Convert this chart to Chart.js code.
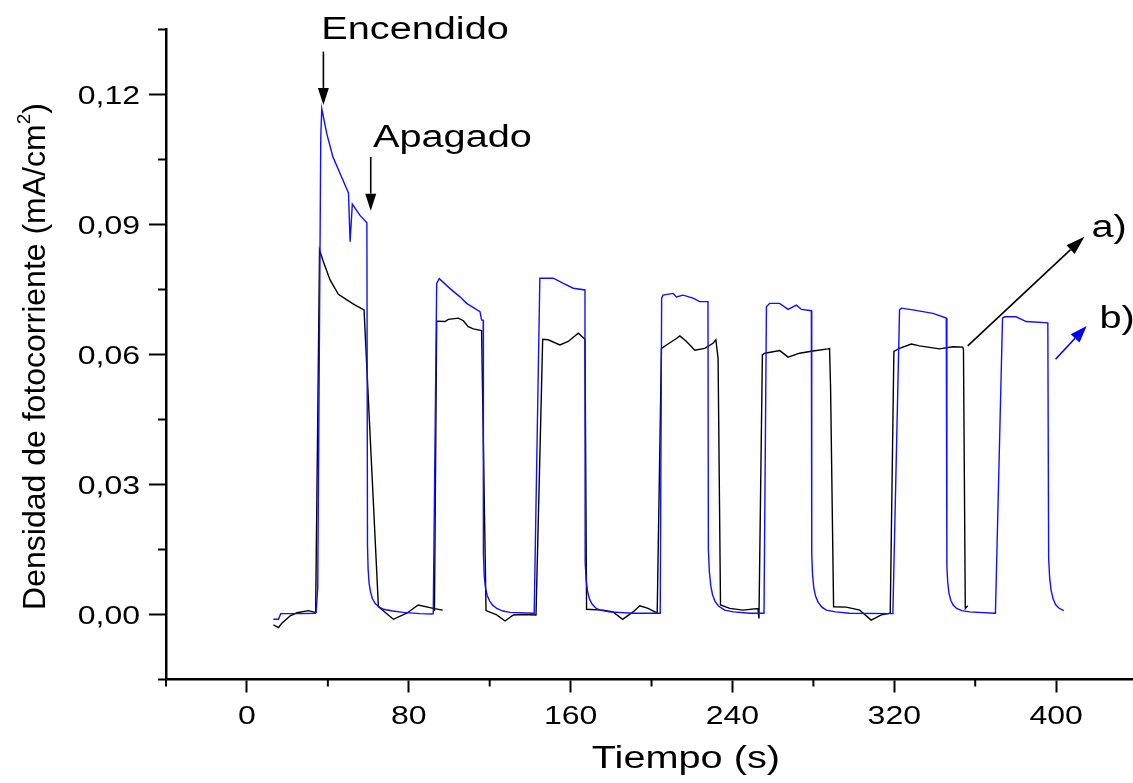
<!DOCTYPE html>
<html>
<head>
<meta charset="utf-8">
<script src="https://cdn.jsdelivr.net/npm/chart.js@4.4.1/dist/chart.umd.min.js"></script>
<style>
  html, body { margin: 0; padding: 0; background: #fff; }
  #wrap { width: 1133px; height: 783px; }
</style>
</head>
<body>
<div id="wrap"><canvas id="photoChart" width="1133" height="783"></canvas></div>
<script>
// ---- datos ----
// curva a) (negra): tiempo (s) y densidad (mA/cm2); null = corte de la línea
const blackTime = [
  13.1, 15.6, 17.3, 21.4, 24.7, 30.4, 33.7, 34.0, 35.9, 37.8, 41.1, 45.2, 49.4, 53.5, 57.9,
  65.0, 72.4, 79.0, 84.7, 92.1, 96.8,
  95.0,
  92.7, 93.8, 97.9, 99.6, 104.5, 107.0, 109.4, 111.9, 116.0,
  118.2, 123.5, 127.6, 131.7, 135.8, 142.9,
  146.2, 148.9, 154.7, 158.8, 163.8, 167.1,
  167.9, 176.1, 181.0, 185.7, 190.9, 194.2, 198.3, 202.8,
  204.9, 207.4, 212.3, 214.0, 217.3, 221.4, 226.3, 230.4, 231.8, 232.9,
  234.1, 238.7, 245.2, 252.6, 253.1,
  254.8, 256.0, 263.4, 267.5, 273.2, 279.8, 287.2, 288.0, 288.5,
  290.0, 296.3, 302.9, 308.6, 313.6, 318.0,
  319.8, 322.6, 328.4, 332.5, 342.4, 348.9, 353.9, 354.2,
  355.1, 356.3
];
const blackCurrent = [
  -0.0024, -0.0030, -0.0020, -0.0003, 0.0004, 0.0009, 0.0005, 0.0020, 0.0841, 0.0814, 0.0772, 0.0739, 0.0726, 0.0714, 0.0703,
  0.0018, -0.0011, 0.0003, 0.0022, 0.0014, 0.0010,
  null,
  0.0008, 0.0677, 0.0676, 0.0681, 0.0684, 0.0678, 0.0664, 0.0659, 0.0655,
  0.0009, -0.0001, -0.0015, -0.0001, 0.0000, -0.0001,
  0.0635, 0.0634, 0.0622, 0.0630, 0.0649, 0.0635,
  0.0012, 0.0010, 0.0006, -0.0011, 0.0006, 0.0020, 0.0014, 0.0003,
  0.0614, 0.0622, 0.0637, 0.0643, 0.0630, 0.0610, 0.0614, 0.0626, 0.0634, 0.0591,
  0.0022, 0.0014, 0.0010, 0.0014, -0.0009,
  0.0599, 0.0603, 0.0609, 0.0594, 0.0603, 0.0608, 0.0613, 0.0614, 0.0526,
  0.0018, 0.0017, 0.0010, -0.0013, -0.0001, 0.0003,
  0.0607, 0.0614, 0.0624, 0.0620, 0.0613, 0.0618, 0.0617, 0.0610,
  0.0014, 0.0020
];

// curva b) (azul)
const blueTime = [
  13.1, 15.6, 16.7, 26.3, 33.7, 34.2, 35.0, 36.5, 37.0, 39.5, 42.5, 46.1, 50.2, 51.0, 52.1, 55.9, 59.3,
  59.6, 59.9, 60.4, 61.1, 62.0, 63.4, 65.5, 67.5, 72.0, 77.3, 85.6, 91.4, 92.1,
  93.8, 95.1, 100.4, 105.3, 108.6, 115.2, 116.0, 116.8,
  116.9, 117.3, 117.9, 118.8, 120.0, 121.6, 123.5, 126.5, 130.0, 141.5, 142.0,
  144.8, 151.4, 156.4, 161.3, 167.1,
  167.2, 167.7, 168.4, 169.3, 170.6, 172.4, 174.5, 179.0, 190.9, 202.5, 204.3,
  205.0, 205.7, 210.7, 212.3, 215.6, 220.5, 223.8, 227.9,
  228.1, 228.6, 229.3, 230.2, 231.4, 233.2, 236.2, 240.5, 248.6, 255.6,
  256.8, 258.4, 263.3, 267.5, 271.6, 274.1, 279.0,
  279.2, 279.6, 280.2, 281.1, 282.4, 284.2, 286.4, 291.0, 297.9, 318.5, 319.3,
  322.6, 323.5, 329.2, 339.1, 345.7,
  346.0, 346.4, 347.0, 347.9, 349.1, 350.8, 353.4, 357.2, 369.5, 370.0,
  373.5, 374.5, 380.2, 385.2, 395.9,
  396.3, 396.8, 397.5, 398.5, 399.7, 401.3, 403.8
];
const blueCurrent = [
  -0.0011, -0.0011, 0.0002, 0.0002, 0.0003, 0.0005, 0.0060, 0.1100, 0.1167, 0.1109, 0.1056, 0.1017, 0.0973, 0.0860, 0.0947, 0.0921, 0.0904,
  0.0160, 0.0105, 0.0072, 0.0052, 0.0037, 0.0025, 0.0017, 0.0012, 0.0008, 0.0005, 0.0002, 0.0001, 0.0002,
  0.0764, 0.0775, 0.0752, 0.0733, 0.0718, 0.0699, 0.0680, 0.0679,
  0.0140, 0.0090, 0.0062, 0.0044, 0.0031, 0.0021, 0.0014, 0.0008, 0.0005, 0.0003, 0.0003,
  0.0776, 0.0776, 0.0764, 0.0753, 0.0749,
  0.0120, 0.0078, 0.0053, 0.0036, 0.0024, 0.0015, 0.0010, 0.0006, 0.0003, 0.0003, 0.0003,
  0.0730, 0.0737, 0.0741, 0.0733, 0.0737, 0.0730, 0.0722, 0.0722,
  0.0150, 0.0098, 0.0066, 0.0045, 0.0030, 0.0019, 0.0010, 0.0006, 0.0003, 0.0003,
  0.0710, 0.0718, 0.0718, 0.0704, 0.0714, 0.0704, 0.0701,
  0.0140, 0.0092, 0.0062, 0.0042, 0.0028, 0.0017, 0.0010, 0.0006, 0.0003, 0.0002, 0.0002,
  0.0703, 0.0707, 0.0703, 0.0695, 0.0684,
  0.0110, 0.0075, 0.0050, 0.0033, 0.0022, 0.0014, 0.0009, 0.0006, 0.0003, 0.0003,
  0.0684, 0.0687, 0.0687, 0.0676, 0.0673,
  0.0130, 0.0085, 0.0056, 0.0036, 0.0023, 0.0015, 0.0009
];

// ejes
const xMajorTicks = [0, 80, 160, 240, 320, 400];
const xTickLabels = ['0', '80', '160', '240', '320', '400'];
const xMinorTicks = [-40, 40, 120, 200, 280, 360];
const yMajorTicks = [0, 0.03, 0.06, 0.09, 0.12];
const yTickLabels = ['0,00', '0,03', '0,06', '0,09', '0,12'];
const yMinorTicks = [-0.015, 0.015, 0.045, 0.075, 0.105, 0.135];

const FONT = '"Liberation Sans", Arial, sans-serif';
const STRETCH = 1.28;   // el texto horizontal del original está ensanchado

function toPoints(xs, ys) {
    return xs.map((t, i) => ({ x: t, y: ys[i] }));
}

function drawText(ctx, text, px, py, size, align, color) {
    ctx.save();
    ctx.translate(px, py);
    ctx.scale(STRETCH, 1);
    ctx.font = `${size}px ${FONT}`;
    ctx.textAlign = align;
    ctx.textBaseline = 'alphabetic';
    ctx.fillStyle = color || '#000';
    ctx.fillText(text, 0, 0);
    ctx.restore();
}

function drawArrow(ctx, x1, y1, x2, y2, color, headLen, headHalf) {
    const ang = Math.atan2(y2 - y1, x2 - x1);
    const bx = x2 - headLen * Math.cos(ang);
    const by = y2 - headLen * Math.sin(ang);
    ctx.save();
    ctx.strokeStyle = color;
    ctx.fillStyle = color;
    ctx.lineWidth = 1.6;
    ctx.beginPath();
    ctx.moveTo(x1, y1);
    ctx.lineTo(bx, by);
    ctx.stroke();
    ctx.beginPath();
    ctx.moveTo(x2, y2);
    ctx.lineTo(bx + headHalf * Math.sin(ang), by - headHalf * Math.cos(ang));
    ctx.lineTo(bx - headHalf * Math.sin(ang), by + headHalf * Math.cos(ang));
    ctx.closePath();
    ctx.fill();
    ctx.restore();
}

// ticks menores, etiquetas, títulos y flechas
const decorPlugin = {
    id: 'decor',
    afterDraw(chart) {
        const { ctx, scales: { x, y } } = chart;
        ctx.save();
        ctx.strokeStyle = '#000';
        ctx.lineWidth = 2;
        xMinorTicks.forEach(v => {
            const px = x.getPixelForValue(v);
            ctx.beginPath();
            ctx.moveTo(px, x.top);
            ctx.lineTo(px, x.top + 7);
            ctx.stroke();
        });
        yMinorTicks.forEach(v => {
            const py = y.getPixelForValue(v);
            ctx.beginPath();
            ctx.moveTo(y.right, py);
            ctx.lineTo(y.right - 8, py);
            ctx.stroke();
        });
        ctx.restore();

        xMajorTicks.forEach((v, i) => {
            drawText(ctx, xTickLabels[i], x.getPixelForValue(v), x.top + 44, 25, 'center');
        });
        yMajorTicks.forEach((v, i) => {
            drawText(ctx, yTickLabels[i], y.right - 26, y.getPixelForValue(v) + 9, 25, 'right');
        });

        const X = v => x.getPixelForValue(v);
        const Y = v => y.getPixelForValue(v);

        // título eje x
        drawText(ctx, 'Tiempo (s)', X(217), x.top + 88, 31, 'center');

        // título eje y (girado) con superíndice
        ctx.save();
        ctx.translate(45, (y.top + y.bottom) / 2 + 2);
        ctx.rotate(-Math.PI / 2);
        ctx.fillStyle = '#000';
        ctx.textBaseline = 'alphabetic';
        ctx.textAlign = 'left';
        const main = 'Densidad de fotocorriente (mA/cm';
        ctx.font = `32px ${FONT}`;
        const wMain = ctx.measureText(main).width;
        const wClose = ctx.measureText(')').width;
        ctx.font = `19px ${FONT}`;
        const wSup = ctx.measureText('2').width;
        const start = -(wMain + wSup + wClose) / 2;
        ctx.font = `32px ${FONT}`;
        ctx.fillText(main, start, 0);
        ctx.fillText(')', start + wMain + wSup, 0);
        ctx.font = `19px ${FONT}`;
        ctx.fillText('2', start + wMain, -15);
        ctx.restore();

        // anotaciones (en coordenadas de datos)
        drawText(ctx, 'Encendido', X(83.1), Y(0.1327), 31, 'center');
        drawArrow(ctx, X(37.8), Y(0.1299), X(37.8), Y(0.1176), '#000', 17, 5.5);
        drawText(ctx, 'Apagado', X(101.6), Y(0.1080), 31, 'center');
        drawArrow(ctx, X(61.2), Y(0.1056), X(61.2), Y(0.0932), '#000', 17, 5.5);
        drawArrow(ctx, X(356.3), Y(0.0620), X(414.0), Y(0.0872), '#000', 19, 6);
        drawText(ctx, 'a)', X(417.5), Y(0.0871), 31, 'left');
        drawArrow(ctx, X(399.7), Y(0.0589), X(415.1), Y(0.0666), '#0000ff', 17, 6);
        drawText(ctx, 'b)', X(421.4), Y(0.0661), 31, 'left');
    }
};

const axisCommon = {
    type: 'linear',
    ticks: { display: false },
    grid: { display: true, drawOnChartArea: false, drawTicks: true, tickWidth: 2, tickColor: '#000' },
    border: { display: true, color: '#000', width: 2.5 }
};

new Chart(document.getElementById('photoChart').getContext('2d'), {
    type: 'scatter',
    data: {
        datasets: [
            {
                label: 'a)',
                data: toPoints(blackTime, blackCurrent),
                showLine: true,
                borderColor: '#000',
                borderWidth: 1.4,
                pointRadius: 0,
                spanGaps: false,
                order: 2
            },
            {
                label: 'b)',
                data: toPoints(blueTime, blueCurrent),
                showLine: true,
                borderColor: '#1010ff',
                borderWidth: 1.4,
                pointRadius: 0,
                spanGaps: false,
                order: 1
            }
        ]
    },
    options: {
        responsive: false,
        animation: false,
        layout: { padding: { top: 29.5, left: 0, right: 0, bottom: 0 } },
        plugins: {
            legend: { display: false },
            tooltip: { enabled: false }
        },
        scales: {
            x: {
                ...axisCommon,
                min: -40,
                max: 438,
                grid: { ...axisCommon.grid, tickLength: 13 },
                afterBuildTicks: s => { s.ticks = xMajorTicks.map(v => ({ value: v })); },
                afterFit: s => { s.height = 103.5; }
            },
            y: {
                ...axisCommon,
                min: -0.015,
                max: 0.135,
                grid: { ...axisCommon.grid, tickLength: 17 },
                afterBuildTicks: s => { s.ticks = yMajorTicks.map(v => ({ value: v })); },
                afterFit: s => { s.width = 166; }
            }
        }
    },
    plugins: [decorPlugin]
});
</script>
</body>
</html>
